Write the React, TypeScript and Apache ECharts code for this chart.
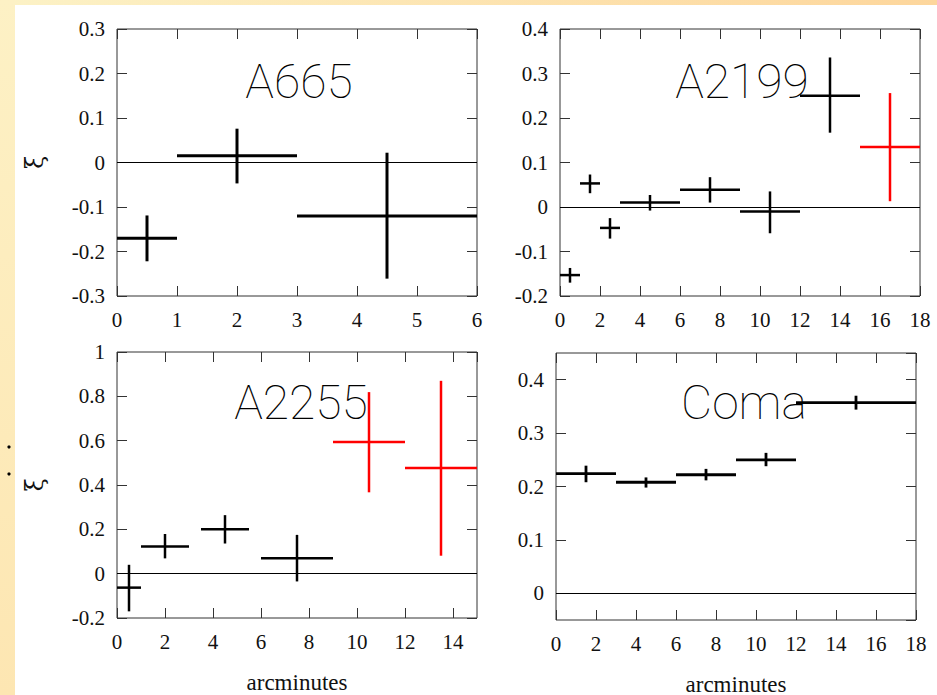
import React, { useEffect, useRef } from "react";
import * as echarts from "echarts";

// ---------- data (arcminute bins and xi with its error range) ----------
const a665BinStart = [0, 1, 3];
const a665BinEnd = [1, 3, 6];
const a665Xi = [-0.17, 0.015, -0.12];
const a665XiLow = [-0.222, -0.047, -0.261];
const a665XiHigh = [-0.119, 0.076, 0.022];
const a665Flag = [false, false, false];

const a2199BinStart = [0, 1, 2, 3, 6, 9, 12, 15];
const a2199BinEnd = [1, 2, 3, 6, 9, 12, 15, 18];
const a2199Xi = [-0.153, 0.053, -0.047, 0.01, 0.039, -0.01, 0.25, 0.135];
const a2199XiLow = [-0.17, 0.031, -0.071, -0.008, 0.01, -0.059, 0.167, 0.013];
const a2199XiHigh = [-0.137, 0.073, -0.025, 0.027, 0.067, 0.035, 0.336, 0.256];
const a2199Flag = [false, false, false, false, false, false, false, true];

const a2255BinStart = [0, 1, 3.5, 6, 9, 12];
const a2255BinEnd = [1, 3, 5.5, 9, 12, 15];
const a2255Xi = [-0.063, 0.123, 0.2, 0.07, 0.594, 0.477];
const a2255XiLow = [-0.17, 0.069, 0.136, -0.035, 0.367, 0.081];
const a2255XiHigh = [0.04, 0.179, 0.264, 0.175, 0.819, 0.87];
const a2255Flag = [false, false, false, false, true, true];

const comaBinStart = [0, 3, 6, 9, 12];
const comaBinEnd = [3, 6, 9, 12, 18];
const comaXi = [0.224, 0.208, 0.222, 0.25, 0.357];
const comaXiLow = [0.208, 0.198, 0.2115, 0.238, 0.344];
const comaXiHigh = [0.239, 0.217, 0.233, 0.263, 0.37];
const comaFlag = [false, false, false, false, false];

const clusterNames = ["A665", "A2199", "A2255", "Coma"];
const xAxisRanges = [
  [0, 6, 1],
  [0, 18, 2],
  [0, 15, 2],
  [0, 18, 2],
];
const yAxisRanges = [
  [-0.3, 0.3, 0.1],
  [-0.2, 0.4, 0.1],
  [-0.2, 1, 0.2],
  [-0.05, 0.45, 0.1],
];
const xAxisTitle = "arcminutes";
const yAxisTitle = "ξ";

// ---------- layout ----------
const grids = [
  { left: 117, top: 29, width: 360, height: 267 },
  { left: 560, top: 29, width: 360, height: 267 },
  { left: 117, top: 352, width: 360, height: 266 },
  { left: 556, top: 353, width: 360, height: 267 },
];
const titlePos = [
  [299, 81],
  [742, 81],
  [301, 402],
  [744, 402],
];
const lineWidths = [3, 2.5, 2.5, 2.8];

function buildRows(s: number[], e: number[], y: number[], lo: number[], hi: number[], flag: boolean[], want: boolean) {
  const rows: number[][] = [];
  for (let i = 0; i < s.length; i++) {
    if (flag[i] === want) rows.push([(s[i] + e[i]) / 2, s[i], e[i], y[i], lo[i], hi[i]]);
  }
  return rows;
}

const clusters = [
  [a665BinStart, a665BinEnd, a665Xi, a665XiLow, a665XiHigh, a665Flag],
  [a2199BinStart, a2199BinEnd, a2199Xi, a2199XiLow, a2199XiHigh, a2199Flag],
  [a2255BinStart, a2255BinEnd, a2255Xi, a2255XiLow, a2255XiHigh, a2255Flag],
  [comaBinStart, comaBinEnd, comaXi, comaXiLow, comaXiHigh, comaFlag],
] as any[];

const labelFont = { fontFamily: "Liberation Serif", fontSize: 21, color: "#111" };

function crossSeries(idx: number, rows: number[][], color: string, width: number) {
  return {
    type: "custom",
    xAxisIndex: idx * 2,
    yAxisIndex: idx * 2,
    data: rows,
    clip: false,
    z: 5,
    encode: { x: [0, 1, 2], y: [3, 4, 5] },
    renderItem: (_p: any, api: any) => {
      const xc = api.value(0);
      const x0 = api.value(1);
      const x1 = api.value(2);
      const y = api.value(3);
      const lo = api.value(4);
      const hi = api.value(5);
      const a = api.coord([x0, y]);
      const b = api.coord([x1, y]);
      const c = api.coord([xc, lo]);
      const d = api.coord([xc, hi]);
      const style = { stroke: color, lineWidth: width };
      return {
        type: "group",
        children: [
          { type: "line", shape: { x1: a[0], y1: a[1], x2: b[0], y2: b[1] }, style },
          { type: "line", shape: { x1: c[0], y1: c[1], x2: d[0], y2: d[1] }, style },
        ],
      };
    },
  };
}

export default function App() {
  const ref = useRef<HTMLDivElement>(null);
  useEffect(() => {
    if (!ref.current) return;
    const chart = echarts.init(ref.current, undefined, { renderer: "svg" });

    const xAxes: any[] = [];
    const yAxes: any[] = [];
    const series: any[] = [];
    const tick = { show: true, inside: true, length: 10, lineStyle: { color: "#333", width: 1 } };

    grids.forEach((g, i) => {
      const [xmin, xmax, xint] = xAxisRanges[i];
      const [ymin, ymax, yint] = yAxisRanges[i];
      const yMinIsMultiple = Math.abs(ymin / yint - Math.round(ymin / yint)) < 1e-9;
      const yScale: any = yMinIsMultiple
        ? { min: ymin, max: ymax, interval: yint }
        : { min: ymin, max: ymax, splitNumber: Math.round((ymax - ymin) / yint) };
      const showXName = i >= 2;
      const showYName = i % 2 === 0;
      xAxes.push({
        type: "value",
        gridIndex: i,
        position: "bottom",
        min: xmin,
        max: xmax,
        interval: xint,
        axisLine: { show: false, onZero: false },
        axisTick: tick,
        splitLine: { show: false },
        axisLabel: { ...labelFont, margin: 13, showMaxLabel: xmax % xint === 0 },
        name: showXName ? xAxisTitle : "",
        nameLocation: "middle",
        nameGap: 54,
        nameTextStyle: { fontFamily: "Liberation Serif", fontSize: 23, lineHeight: 20, color: "#111" },
      });
      xAxes.push({
        type: "value",
        gridIndex: i,
        position: "top",
        min: xmin,
        max: xmax,
        interval: xint,
        axisLine: { show: false, onZero: false },
        axisTick: tick,
        splitLine: { show: false },
        axisLabel: { show: false },
      });
      yAxes.push({
        type: "value",
        gridIndex: i,
        position: "left",
        ...yScale,
        axisLine: { show: false, onZero: false },
        axisTick: tick,
        splitLine: { show: false },
        axisLabel: { ...labelFont, margin: 12, showMinLabel: yMinIsMultiple, showMaxLabel: yMinIsMultiple },
        name: showYName ? yAxisTitle : "",
        nameLocation: "middle",
        nameGap: 70,
        nameTextStyle: { fontFamily: "DejaVu Serif", fontSize: 24, color: "#111" },
      });
      yAxes.push({
        type: "value",
        gridIndex: i,
        position: "right",
        ...yScale,
        axisLine: { show: false, onZero: false },
        axisTick: tick,
        splitLine: { show: false },
        axisLabel: { show: false },
      });

      const [s, e, y, lo, hi, flag] = clusters[i];
      const w = lineWidths[i];
      const black = crossSeries(i, buildRows(s, e, y, lo, hi, flag, false), "#000", w) as any;
      black.markLine = {
        silent: true,
        symbol: ["none", "none"],
        label: { show: false },
        lineStyle: { color: "#000", width: 1, type: "solid" },
        data: [{ yAxis: 0 }],
      };
      series.push(black);
      const redRows = buildRows(s, e, y, lo, hi, flag, true);
      if (redRows.length) series.push(crossSeries(i, redRows, "#ff0000", w));
    });

    const graphics: any[] = [
      {
        type: "rect",
        z: -10,
        shape: { x: 0, y: 0, width: 937, height: 5 },
        style: {
          fill: new echarts.graphic.LinearGradient(0, 0, 1, 0, [
            { offset: 0, color: "#fcf2c6" },
            { offset: 1, color: "#fdd69c" },
          ]),
        },
      },
      {
        type: "rect",
        z: -10,
        shape: { x: 0, y: 0, width: 15, height: 695 },
        style: {
          fill: new echarts.graphic.LinearGradient(0, 0, 0, 1, [
            { offset: 0, color: "#fdf1c5" },
            { offset: 1, color: "#fde6b2" },
          ]),
        },
      },
      { type: "circle", shape: { cx: 9, cy: 447, r: 1.6 }, style: { fill: "#000" } },
      { type: "circle", shape: { cx: 9, cy: 474, r: 1.6 }, style: { fill: "#000" } },
    ];
    clusterNames.forEach((name, i) => {
      graphics.push({
        type: "text",
        z: 0,
        x: titlePos[i][0],
        y: titlePos[i][1],
        style: {
          text: name,
          fontFamily: "Roboto",
          fontWeight: 100,
          fontSize: 48,
          fill: "#000",
          align: "center",
          verticalAlign: "middle",
        },
      });
    });

    chart.setOption({
      animation: false,
      backgroundColor: "#fff",
      textStyle: { fontFamily: "Liberation Serif" },
      grid: grids.map((g) => ({
        ...g,
        show: true,
        borderColor: "#333",
        borderWidth: 1,
        backgroundColor: "transparent",
        containLabel: false,
        outerBoundsMode: "none",
      })),
      xAxis: xAxes,
      yAxis: yAxes,
      series,
      graphic: graphics,
    });
    return () => chart.dispose();
  }, []);
  return <div ref={ref} style={{ position: "absolute", left: 0, top: 0, width: 937, height: 695 }} />;
}
